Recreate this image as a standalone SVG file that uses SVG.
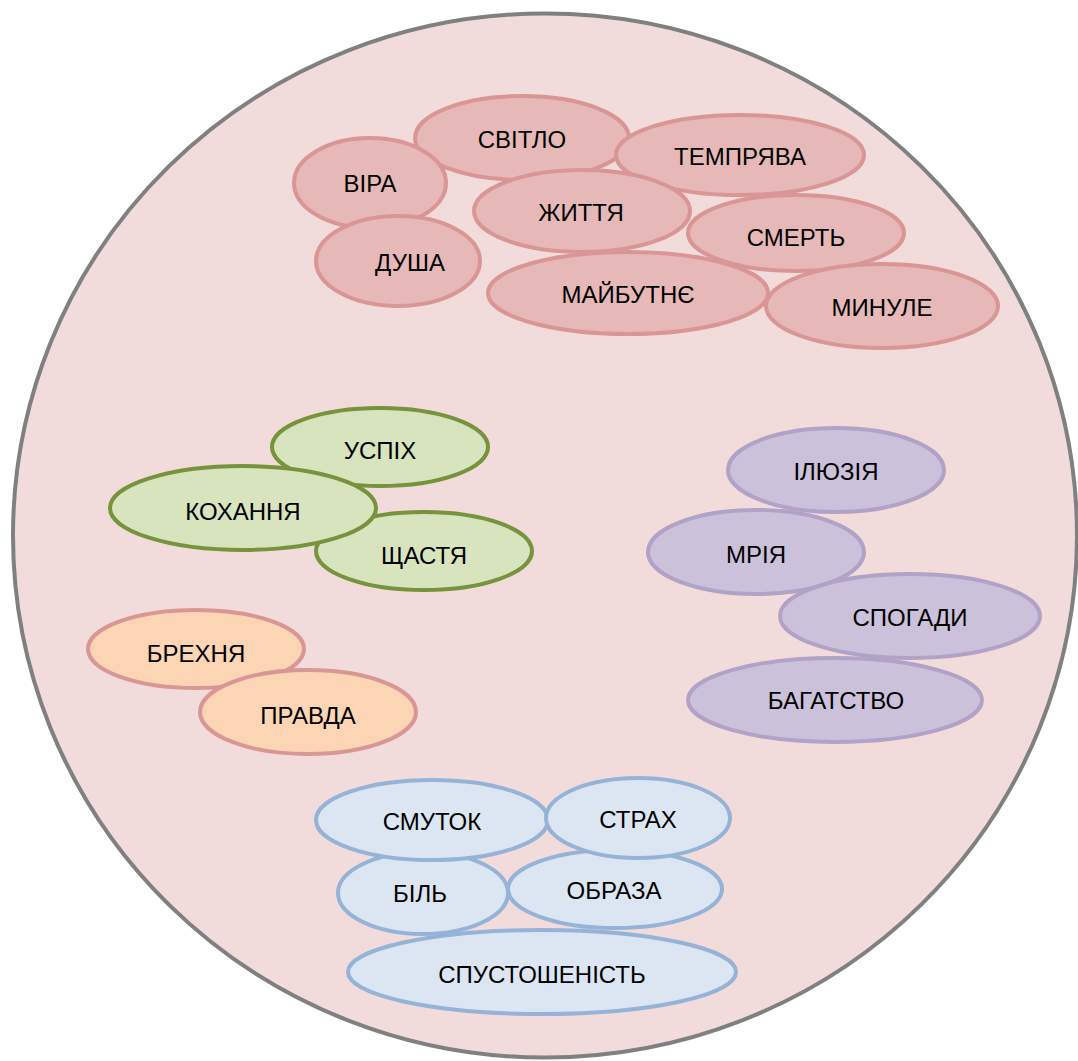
<svg xmlns="http://www.w3.org/2000/svg" width="1078" height="1061" viewBox="0 0 1078 1061">
<style>
text{font-family:"Liberation Sans",Arial,sans-serif;font-size:24px;fill:#000;text-anchor:middle}
ellipse{stroke-width:4}
.r ellipse{fill:#E6B9B8;stroke:#D99694}
.g ellipse{fill:#D7E4BD;stroke:#77933C}
.o ellipse{fill:#FCD5B5;stroke:#D99694}
.p ellipse{fill:#CCC1DA;stroke:#B3A2C7}
.b ellipse{fill:#DCE6F2;stroke:#95B3D7}
</style>
<g id="container"><ellipse cx="545" cy="535.5" rx="532" ry="522" fill="#F2DCDB" stroke="#808080" stroke-width="4"/></g>
<g id="connectors"/>
<g class="r">
<g id="svitlo"><ellipse cx="522" cy="138" rx="107" ry="42"/><text x="522" y="148">СВІТЛО</text></g>
<g id="vira"><ellipse cx="370" cy="183" rx="76" ry="45"/><text x="370" y="192">ВІРА</text></g>
<g id="temryava"><ellipse cx="740" cy="155" rx="124" ry="40"/><text x="740" y="165">ТЕМПРЯВА</text></g>
<g id="zhyttya"><ellipse cx="582" cy="211" rx="108" ry="41"/><text x="581" y="221">ЖИТТЯ</text></g>
<g id="dusha"><ellipse cx="398" cy="261" rx="82" ry="45"/><text x="410" y="271">ДУША</text></g>
<g id="smert"><ellipse cx="796" cy="233" rx="108" ry="38"/><text x="796" y="246">СМЕРТЬ</text></g>
<g id="maybutnye"><ellipse cx="628" cy="293" rx="140" ry="41"/><text x="628" y="303">МАЙБУТНЄ</text></g>
<g id="mynule"><ellipse cx="882" cy="306" rx="116" ry="42"/><text x="882" y="316">МИНУЛЕ</text></g>
</g>
<g class="g">
<g id="uspikh"><ellipse cx="380" cy="447" rx="108" ry="39"/><text x="380" y="459">УСПІХ</text></g>
<g id="shchastya"><ellipse cx="424" cy="551" rx="108" ry="39"/><text x="424" y="564">ЩАСТЯ</text></g>
<g id="kokhannya"><ellipse cx="243" cy="508" rx="133" ry="42"/><text x="243" y="520">КОХАННЯ</text></g>
</g>
<g class="o">
<g id="brekhnya"><ellipse cx="196" cy="649" rx="108" ry="39"/><text x="196" y="662">БРЕХНЯ</text></g>
<g id="pravda"><ellipse cx="308" cy="712" rx="108" ry="42"/><text x="308" y="724">ПРАВДА</text></g>
</g>
<g class="p">
<g id="ilyuziya"><ellipse cx="836" cy="470" rx="108" ry="42"/><text x="836" y="480">ІЛЮЗІЯ</text></g>
<g id="mriya"><ellipse cx="756" cy="552" rx="108" ry="42"/><text x="756" y="563">МРІЯ</text></g>
<g id="spohady"><ellipse cx="910" cy="616" rx="130" ry="42"/><text x="910" y="626">СПОГАДИ</text></g>
<g id="bahatstvo"><ellipse cx="835" cy="700" rx="147" ry="42"/><text x="836" y="709">БАГАТСТВО</text></g>
</g>
<g class="b">
<g id="bil"><ellipse cx="423" cy="893" rx="85" ry="41"/><text x="420" y="902">БІЛЬ</text></g>
<g id="obraza"><ellipse cx="615" cy="889" rx="107" ry="39"/><text x="614" y="899">ОБРАЗА</text></g>
<g id="smutok"><ellipse cx="432" cy="820" rx="116" ry="40"/><text x="432" y="830">СМУТОК</text></g>
<g id="strakh"><ellipse cx="638" cy="818" rx="92" ry="40"/><text x="638" y="828">СТРАХ</text></g>
<g id="spustoshenist"><ellipse cx="542" cy="972" rx="194" ry="42"/><text x="542" y="983">СПУСТОШЕНІСТЬ</text></g>
</g>
</svg>
